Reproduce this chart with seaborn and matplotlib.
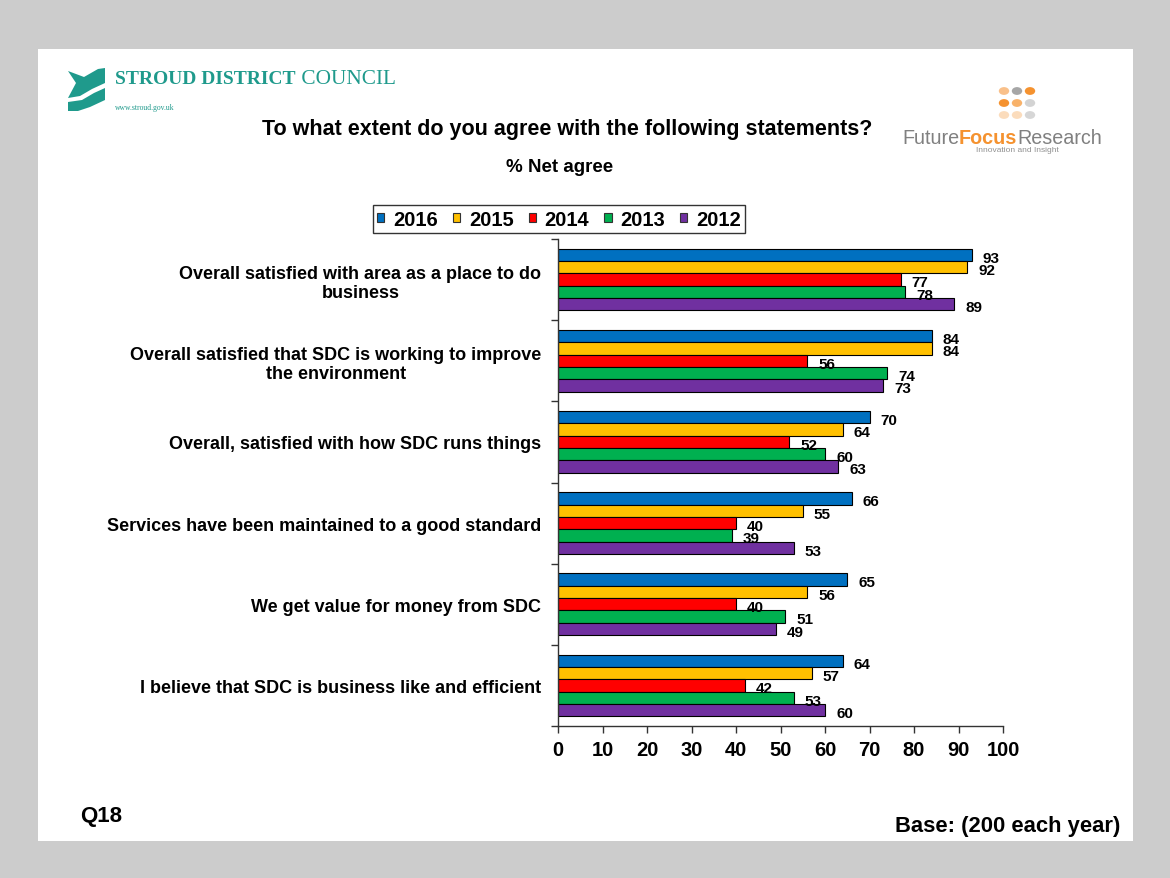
import matplotlib
matplotlib.use("Agg")
import matplotlib.pyplot as plt
from matplotlib.patches import Rectangle, Polygon, Circle, Patch
import seaborn as sns
import pandas as pd

# Survey statements and net-agree scores by year
statements = [
    "Overall satisfied with area as a place to do\nbusiness",
    "Overall satisfied that SDC is working to improve\nthe environment",
    "Overall, satisfied with how SDC runs things",
    "Services have been maintained to a good standard",
    "We get value for money from SDC",
    "I believe that SDC is business like and efficient",
]
years = ["2016", "2015", "2014", "2013", "2012"]
score_2016 = [93, 84, 70, 66, 65, 64]
score_2015 = [92, 84, 64, 55, 56, 57]
score_2014 = [77, 56, 52, 40, 40, 42]
score_2013 = [78, 74, 60, 39, 51, 53]
score_2012 = [89, 73, 63, 53, 49, 60]
year_colors = ["#0070C0", "#FFC000", "#FF0000", "#00B050", "#7030A0"]
x_ticks = list(range(0, 101, 10))

series = dict(zip(years, [score_2016, score_2015, score_2014, score_2013, score_2012]))
df = pd.DataFrame(
    [(s, y, v) for y in years for s, v in zip(statements, series[y])],
    columns=["statement", "year", "value"],
)

sns.set_theme(style="white")
plt.rcParams["font.family"] = ["Liberation Sans", "DejaVu Sans"]
plt.rcParams["text.color"] = "black"
plt.rcParams["xtick.color"] = "black"
plt.rcParams["ytick.color"] = "black"
plt.rcParams["axes.labelcolor"] = "black"

W, H = 1170, 879
fig = plt.figure(figsize=(W / 100, H / 100), dpi=100)
fig.patch.set_facecolor("#cccccc")

def fx(px):
    return px / W

def fy(py):
    return 1 - py / H

# White slide panel behind everything
fig.patches.append(Rectangle((fx(38), fy(842)), fx(1133) - fx(38), fy(50) - fy(842),
                             transform=fig.transFigure, facecolor="white",
                             edgecolor="none", zorder=-10))

ax = fig.add_axes([fx(558), fy(727), fx(1003) - fx(558), fy(240) - fy(727)])
ax.patch.set_alpha(0)

sns.barplot(data=df, x="value", y="statement", hue="year", hue_order=years,
            order=statements, palette=year_colors, orient="h", width=0.76,
            saturation=1, edgecolor="black", linewidth=0.8, ax=ax, legend=False)

for cont in ax.containers:
    anns = ax.bar_label(cont, fmt="%d", padding=8, fontsize=11, fontweight="bold",
                        color="black")
    for a in anns:
        a.xyann = (8, -2)

ax.set_xlim(0, 100)
ax.set_ylim(len(statements) - 0.5, -0.5)
ax.set_xticks(x_ticks)
ax.set_xticklabels([str(t) for t in x_ticks], fontsize=14.5, fontweight="bold")
ax.set_xlabel("")
ax.set_ylabel("")
ax.tick_params(axis="x", length=5, width=1, direction="out", pad=5,
               color="#333333", bottom=True)
ax.tick_params(axis="y", which="major", length=0, pad=12)
ax.set_yticks([i - 0.5 for i in range(len(statements) + 1)], minor=True)
ax.tick_params(axis="y", which="minor", length=5, width=1, direction="out",
               color="#333333", left=True)
for lab in ax.get_yticklabels():
    lab.set_fontsize(13)
    lab.set_fontweight("bold")
    lab.set_multialignment("center")
for side in ["top", "right"]:
    ax.spines[side].set_visible(False)
for side in ["left", "bottom"]:
    ax.spines[side].set_color("#333333")
    ax.spines[side].set_linewidth(1)

handles = [Patch(facecolor=c, edgecolor="#333333", linewidth=0.8) for c in year_colors]
leg = fig.legend(handles, years, loc="center", bbox_to_anchor=(fx(559), fy(220)),
                 ncol=5, frameon=True, fancybox=False, handlelength=0.35,
                 handleheight=0.35, handletextpad=0.45, columnspacing=0.75,
                 borderpad=0.2, prop={"weight": "bold", "size": 14.5})
leg.get_frame().set_edgecolor("black")
leg.get_frame().set_linewidth(1)

# Titles and notes
fig.text(fx(567), fy(130), "To what extent do you agree with the following statements?",
         ha="center", va="center", fontsize=15.5, fontweight="bold")
fig.text(fx(560), fy(168), "% Net agree", ha="center", va="center",
         fontsize=13.5, fontweight="bold")
fig.text(fx(80), fy(817), "Q18", ha="left", va="center", fontsize=16, fontweight="bold")
fig.text(fx(1120), fy(827), "Base: (200 each year)", ha="right", va="center",
         fontsize=15.8, fontweight="bold")

# Stroud District Council logo
teal = "#1f9a8c"
fig.patches.append(Polygon([(fx(68), fy(72)), (fx(84), fy(78)), (fx(98), fy(70)),
                            (fx(105), fy(69)), (fx(105), fy(84)), (fx(92), fy(90)),
                            (fx(80), fy(97)), (fx(68), fy(99)), (fx(76), fy(84))],
                           closed=True, transform=fig.transFigure,
                           facecolor=teal, edgecolor="none"))
fig.patches.append(Polygon([(fx(68), fy(103)), (fx(82), fy(101)), (fx(94), fy(94)),
                            (fx(105), fy(89)), (fx(105), fy(101)), (fx(90), fy(108)),
                            (fx(78), fy(112)), (fx(68), fy(112))],
                           closed=True, transform=fig.transFigure,
                           facecolor=teal, edgecolor="none"))
t1 = fig.text(fx(115), fy(80), "STROUD DISTRICT", ha="left", va="center",
              fontsize=14, fontweight="bold", color=teal, family="Liberation Serif")
fig.text(fx(115), fy(108), "www.stroud.gov.uk", ha="left", va="center",
         fontsize=5.5, color=teal, family="Liberation Serif")

# Future Focus Research logo
dot_cols = [["#f9c08a", "#a6a6a6", "#f5922f"],
            ["#f5922f", "#f8b26a", "#d3d3d3"],
            ["#fbdcbc", "#fbdcbc", "#d6d6d6"]]
for r, row in enumerate(dot_cols):
    for c, col in enumerate(row):
        fig.patches.append(Circle((fx(1004 + 13 * c), fy(92 + 12 * r)), 5.2 / W,
                                  transform=fig.transFigure, facecolor=col,
                                  edgecolor="none"))

fig.canvas.draw()
renderer = fig.canvas.get_renderer()
inv = fig.transFigure.inverted()

def after(prev, text, **kw):
    bb = prev.get_window_extent(renderer)
    x0 = inv.transform((bb.x1, 0))[0]
    return fig.text(x0, prev.get_position()[1], text, ha="left", va="center", **kw)

after(t1, " COUNCIL", fontsize=15.3, color=teal, family="Liberation Serif")

f1 = fig.text(fx(902), fy(138), "Future", ha="left", va="center", fontsize=14.2,
              color="#808080")
f2 = after(f1, "Focus", fontsize=14.2, color="#f5922f", fontweight="bold")
after(f2, "Research", fontsize=14.2, color="#808080")
fig.text(fx(1017), fy(150), "Innovation and Insight", ha="center", va="center",
         fontsize=6, color="#909090")

fig.savefig("out.png", dpi=100, facecolor=fig.get_facecolor())
